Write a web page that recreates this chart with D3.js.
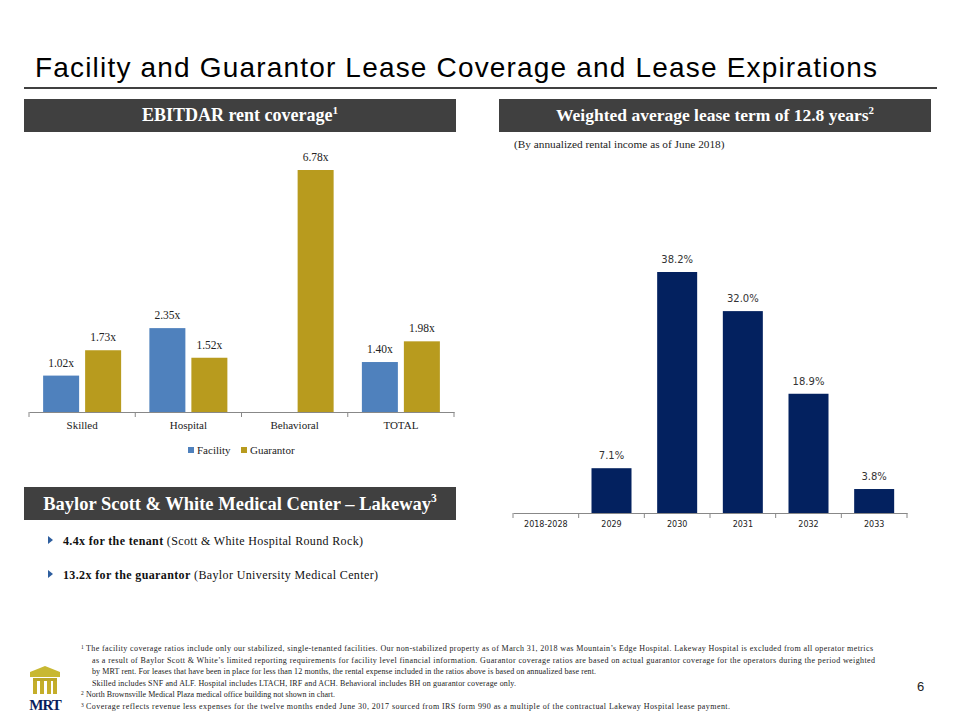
<!DOCTYPE html>
<html><head><meta charset="utf-8">
<script src="https://cdn.jsdelivr.net/npm/d3@7"></script>
<style>body{margin:0;background:#fff}svg{display:block}</style>
</head><body>
<script>
// ---- data ----
const coverageCategories = ["Skilled", "Hospital", "Behavioral", "TOTAL"];
const coverageSeries = ["Facility", "Guarantor"];
const facilityValues = [1.02, 2.35, null, 1.40];
const guarantorValues = [1.73, 1.52, 6.78, 1.98];
const expiryCategories = ["2018-2028", "2029", "2030", "2031", "2032", "2033"];
const expiryValues = [null, 7.1, 38.2, 32.0, 18.9, 3.8];

const W = 960, H = 720;
const serif = "'Liberation Serif', 'DejaVu Serif', serif";
const sans = "'Liberation Sans', Arial, sans-serif";
const tahoma = "'DejaVu Sans', Verdana, sans-serif";
const svg = d3.select("body").append("svg").attr("width", W).attr("height", H);

// Title
svg.append("text").attr("x", 35).attr("y", 77).attr("font-family", sans).attr("font-size", 28)
  .attr("textLength", 842).attr("lengthAdjust", "spacing")
  .attr("fill", "#000").text("Facility and Guarantor Lease Coverage and Lease Expirations");
svg.append("line").attr("x1", 24).attr("x2", 937).attr("y1", 88).attr("y2", 88).attr("stroke", "#000").attr("stroke-width", 1.3);

function header(x, y, w, h, main, sup, fs) {
  svg.append("rect").attr("x", x).attr("y", y).attr("width", w).attr("height", h).attr("fill", "#404040");
  const t = svg.append("text").attr("x", x + w / 2).attr("y", y + h / 2 + fs * 0.33).attr("text-anchor", "middle")
    .attr("font-family", serif).attr("font-weight", "bold").attr("font-size", fs).attr("fill", "#fff");
  t.append("tspan").text(main);
  t.append("tspan").attr("font-size", fs * 0.62).attr("dy", -fs * 0.42).text(sup);
}
header(24, 99, 432, 33, "EBITDAR rent coverage", "1", 18);
header(499, 99, 432, 33, "Weighted average lease term of 12.8 years", "2", 17.5);
header(24, 487, 432, 33, "Baylor Scott & White Medical Center \u2013 Lakeway", "3", 18.5);

svg.append("text").attr("x", 514).attr("y", 148).attr("font-family", serif).attr("font-size", 11.3)
  .attr("fill", "#222").text("(By annualized rental income as of June 2018)");

// ---- Left chart ----
const lx = d3.scaleBand().domain(coverageCategories).range([29, 454]);
const ly = d3.scaleLinear().domain([0, 6.78]).range([412, 170]);
const colors = { Facility: "#4F81BD", Guarantor: "#B89B1E" };
const barW = 36;
const left = svg.append("g");
coverageCategories.forEach((c, i) => {
  const cx = lx(c) + lx.bandwidth() / 2;
  [["Facility", facilityValues[i], cx - 3 - barW], ["Guarantor", guarantorValues[i], cx + 3]].forEach(([s, v, x]) => {
    if (v == null) return;
    left.append("rect").attr("x", x).attr("y", ly(v)).attr("width", barW).attr("height", ly(0) - ly(v)).attr("fill", colors[s]);
    left.append("text").attr("x", x + barW / 2).attr("y", ly(v) - 9).attr("text-anchor", "middle")
      .attr("font-family", serif).attr("font-size", 11.5).attr("fill", "#222").text(v.toFixed(2) + "x");
  });
});
const lAxis = left.append("g").attr("transform", "translate(0,412)")
  .call(d3.axisBottom(lx).tickSize(0).tickPadding(9));
lAxis.select(".domain").attr("stroke", "#888");
lAxis.selectAll("text").attr("font-family", serif).attr("font-size", 11).attr("fill", "#222");
coverageCategories.concat(["end"]).forEach((c, i) => {
  const x = i < coverageCategories.length ? lx(c) : lx.range()[1];
  left.append("line").attr("x1", x).attr("x2", x).attr("y1", 412).attr("y2", 417).attr("stroke", "#888");
});
// legend
const legendX = [188, 241];
coverageSeries.forEach((s, i) => {
  const x = legendX[i];
  left.append("rect").attr("x", x).attr("y", 447).attr("width", 6).attr("height", 6).attr("fill", colors[s]);
  left.append("text").attr("x", x + 9).attr("y", 454).attr("font-family", serif).attr("font-size", 11).attr("fill", "#222").text(s);
});

// ---- Right chart ----
const rx = d3.scaleBand().domain(expiryCategories).range([513, 907]);
const ry = d3.scaleLinear().domain([0, 38.2]).range([513, 272]);
const right = svg.append("g");
const rBarW = 40;
expiryCategories.forEach((c, i) => {
  const v = expiryValues[i];
  if (v == null) return;
  const x = rx(c) + rx.bandwidth() / 2 - rBarW / 2;
  right.append("rect").attr("x", x).attr("y", ry(v)).attr("width", rBarW).attr("height", ry(0) - ry(v)).attr("fill", "#03215F");
  right.append("text").attr("x", x + rBarW / 2).attr("y", ry(v) - 9).attr("text-anchor", "middle")
    .attr("font-family", tahoma).attr("font-size", 10).attr("fill", "#333").text(v.toFixed(1) + "%");
});
const rAxis = right.append("g").attr("transform", "translate(0,513)")
  .call(d3.axisBottom(rx).tickSize(0).tickPadding(8));
rAxis.select(".domain").attr("stroke", "#888");
rAxis.selectAll("text").attr("font-family", tahoma).attr("font-size", 8).attr("fill", "#222");
expiryCategories.concat(["end"]).forEach((c, i) => {
  const x = i < expiryCategories.length ? rx(c) : rx.range()[1];
  right.append("line").attr("x1", x).attr("x2", x).attr("y1", 513).attr("y2", 518).attr("stroke", "#888");
});

// ---- bullets ----
const bulletBold = ["4.4x for the tenant", "13.2x for the guarantor"];
const bulletRest = [" (Scott & White Hospital Round Rock)", " (Baylor University Medical Center)"];
const bulletY = [545, 579];
const bulletLen = [300, 315];
bulletBold.forEach((b, i) => {
  const y = bulletY[i];
  svg.append("path").attr("d", `M48,${y - 9} L53,${y - 5} L48,${y - 1}Z`).attr("fill", "#2E5E9E");
  const t = svg.append("text").attr("x", 63).attr("y", y).attr("font-family", serif).attr("font-size", 12)
    .attr("textLength", bulletLen[i]).attr("lengthAdjust", "spacing").attr("fill", "#111");
  t.append("tspan").attr("font-weight", "bold").text(b);
  t.append("tspan").text(bulletRest[i]);
});

// ---- footnotes ----
const footnoteMarks = ["1", "", "", "", "2", "3"];
const footnoteTexts = [
  "The facility coverage ratios include only our stabilized, single-tenanted facilities. Our non-stabilized property as of March 31, 2018 was Mountain\u2019s Edge Hospital. Lakeway Hospital is excluded from all operator metrics",
  "as a result of Baylor Scott & White\u2019s limited reporting requirements for facility level financial information. Guarantor coverage ratios are based on actual guarantor coverage for the operators during the period weighted",
  "by MRT rent. For leases that have been in place for less than 12 months, the rental expense included in the ratios above is based on annualized base rent.",
  "Skilled includes SNF and ALF. Hospital includes LTACH, IRF and ACH. Behavioral includes BH on guarantor coverage only.",
  "North Brownsville Medical Plaza medical office building not shown in chart.",
  "Coverage reflects revenue less expenses for the twelve months ended June 30, 2017 sourced from IRS form 990 as a multiple of the contractual Lakeway Hospital lease payment."
];
const fnY = [651, 663, 674, 686, 697, 709];
const fnEnd = [873, 875, 596, 516, 335, 730];
footnoteTexts.forEach((txt, i) => {
  const sup = footnoteMarks[i];
  const x0 = sup ? 86 : 92;
  if (sup) svg.append("text").attr("x", 81).attr("y", fnY[i] - 2.5).attr("font-family", serif).attr("font-size", 5.5).attr("fill", "#222").text(sup);
  svg.append("text").attr("x", x0).attr("y", fnY[i]).attr("font-family", serif).attr("font-size", 8)
    .attr("textLength", fnEnd[i] - x0).attr("lengthAdjust", "spacing").attr("fill", "#222").text(txt);
});

svg.append("text").attr("x", 917).attr("y", 691).attr("font-family", sans).attr("font-size", 13).attr("fill", "#222").text("6");

// ---- logo ----
const logo = svg.append("g");
logo.append("path").attr("d", "M30,672 L45,666 L60,672 L60,677 L30,677 Z").attr("fill", "#C8B832");
logo.append("rect").attr("x", 33).attr("y", 678).attr("width", 24).attr("height", 3).attr("fill", "#BBA628");
[33, 40, 47, 53].forEach(x => logo.append("rect").attr("x", x).attr("y", 681).attr("width", 4).attr("height", 13).attr("fill", "#C4AE2A"));
logo.append("text").attr("x", 45).attr("y", 710).attr("text-anchor", "middle").attr("font-family", serif)
  .attr("font-weight", "bold").attr("font-size", 15).attr("fill", "#0A1E5C").attr("letter-spacing", -1).text("MRT");
</script>
</body></html>
